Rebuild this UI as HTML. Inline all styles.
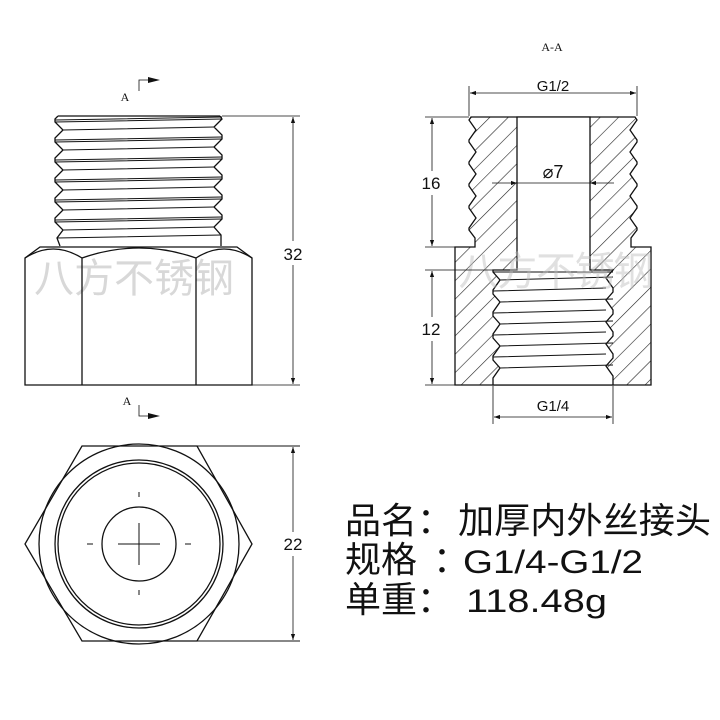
<!DOCTYPE html>
<html><head><meta charset="utf-8"><style>
html,body{margin:0;padding:0;background:#fff}
svg{display:block}
</style></head><body>
<svg width="720" height="720" viewBox="0 0 720 720" xmlns="http://www.w3.org/2000/svg">
<defs>
<pattern id="h" width="13" height="13" patternUnits="userSpaceOnUse" patternTransform="rotate(45)">
<line x1="0" y1="0" x2="0" y2="13" stroke="#222" stroke-width="1.2"/>
</pattern>
<marker id="ar" viewBox="0 0 10 10" refX="10" refY="5" markerWidth="10" markerHeight="6" orient="auto-start-reverse" markerUnits="userSpaceOnUse">
<path d="M0,1.5 L10,5 L0,8.5z" fill="#111"/>
</marker>
</defs>

<text x="34" y="292" font-family="Liberation Sans, Noto Sans CJK SC, sans-serif" font-size="40" fill="#d8d8d8" textLength="200">八方不锈钢</text>

<g fill="none" stroke="#111" stroke-width="1.3">
<path d="M58,116 L220,116 M58,116 L55,119 L55,122 L63,130 L55,138 L55,142 L63,150 L55,158 L55,162 L63,170 L55,178 L55,182 L63,190 L55,198 L55,202 L63,210 L55,218 L55,222 L63,230 L57,238 L60,246"/>
<path d="M220,116 L222,119 L214,127 L222,135 L222,139 L214,147 L222,155 L222,159 L214,167 L222,175 L222,179 L214,187 L222,195 L222,199 L214,207 L222,215 L222,219 L214,227 L221,235 L221,246"/>
<g stroke-width="1">
<path d="M55,120 L222,117 M63,130 L214,127 M55,140 L222,137 M63,150 L214,147 M55,160 L222,157 M63,170 L214,167 M55,180 L222,177 M63,190 L214,187 M55,200 L222,197 M63,210 L214,207 M55,220 L222,217 M63,230 L214,227 M57,238 L221,235"/>
<path d="M55,122 L222,119 M55,142 L222,139 M55,162 L222,159 M55,182 L222,179 M55,202 L222,199 M55,222 L222,219"/>
</g>
<path d="M25,258 L40,247 L237,247 L252,258 L252,385 L25,385 Z"/>
<path d="M25,258 Q53,240 82,258 M82,258 Q139,238 196,258 M196,258 Q224,240 252,258 M82,258 L82,385 M196,258 L196,385"/>
</g>
<g stroke="#111" stroke-width="0.8" fill="none">
<path d="M222,116 L300,116 M252,385 L300,385"/>
<line x1="293" y1="117" x2="293" y2="384" marker-start="url(#ar)" marker-end="url(#ar)"/>
<path d="M139,91 L139,80 L150,80 M139,405 L139,416 L150,416"/>
</g>
<path d="M148,77 L160,80 L148,83z M148,413 L160,416 L148,419z" fill="#111"/>
<rect x="281" y="241" width="24" height="24" fill="#fff"/>
<text x="293" y="260" font-family="Liberation Sans, sans-serif" font-size="17" text-anchor="middle" fill="#111">32</text>
<text x="125" y="101" font-family="Liberation Serif, serif" font-size="12" text-anchor="middle" fill="#111">A</text>
<text x="127" y="405" font-family="Liberation Serif, serif" font-size="12" text-anchor="middle" fill="#111">A</text>

<g fill="none" stroke="#111" stroke-width="1.3">
<polygon points="82,446 197,446 252,544 197,641 82,641 25,544"/>
<circle cx="139" cy="544" r="100"/>
<circle cx="139" cy="544" r="84"/>
<circle cx="139" cy="544" r="81"/>
<circle cx="139" cy="544" r="37"/>
</g>
<g stroke="#111" stroke-width="1">
<path d="M118,544 L160,544 M139,523 L139,565 M87,544 L93,544 M185,544 L191,544 M139,492 L139,497 M139,590 L139,595"/>
<path d="M197,446 L300,446 M197,641 L300,641"/>
<line x1="293" y1="447" x2="293" y2="640" marker-start="url(#ar)" marker-end="url(#ar)" stroke-width="0.8"/>
</g>
<rect x="281" y="532" width="24" height="24" fill="#fff"/>
<text x="293" y="550" font-family="Liberation Sans, sans-serif" font-size="17" text-anchor="middle" fill="#111">22</text>

<text x="552" y="51" font-family="Liberation Serif, serif" font-size="12" text-anchor="middle" fill="#111">A-A</text>
<path fill="url(#h)" stroke="#111" stroke-width="1.3" d="M471,117 L635,117 L637,120 L630,130 L637,140 L637,142 L630,152 L637,162 L637,164 L630,174 L637,184 L637,186 L630,196 L637,206 L637,208 L630,218 L637,228 L637,230 L631,238 L631,247 L651,247 L651,385 L455,385 L455,247 L475,247 L475,238 L469,230 L469,228 L476,218 L469,208 L469,206 L476,196 L469,186 L469,184 L476,174 L469,164 L469,162 L476,152 L469,142 L469,140 L476,130 L469,120 Z"/>
<path fill="#fff" stroke="#111" stroke-width="1.3" d="M517,117 L590,117 L590,270 L613,270 L606,278 L613,288 L613,292 L606,300 L613,310 L613,314 L606,322 L613,332 L613,336 L606,344 L613,354 L613,358 L606,366 L613,376 L613,385 L493,385 L493,378 L500,368 L493,360 L493,356 L500,346 L493,338 L493,334 L500,324 L493,316 L493,312 L500,302 L493,294 L493,290 L500,280 L493,272 L493,270 L517,270 Z"/>
<g stroke="#111" stroke-width="1" fill="none">
<path d="M500,280 L613,277 M493,291 L606,288 M500,302 L613,299 M493,313 L606,310 M500,324 L613,321 M493,335 L606,332 M500,346 L613,343 M493,357 L606,354 M500,368 L613,365"/>
<path d="M493,272 L613,272"/>
</g>
<text x="556" y="285" font-family="Liberation Sans, Noto Sans CJK SC, sans-serif" font-size="40" fill="#bbb" fill-opacity="0.45" text-anchor="middle" textLength="195">八方不锈钢</text>
<g stroke="#111" stroke-width="0.8" fill="none">
<path d="M469,86 L469,116 M637,86 L637,116 M425,117 L469,117 M425,247 L455,247 M425,270 L493,270 M425,385 L455,385 M493,386 L493,424 M613,386 L613,424"/>
<line x1="470" y1="93" x2="636" y2="93" marker-start="url(#ar)" marker-end="url(#ar)"/>
<line x1="432" y1="118" x2="432" y2="246" marker-start="url(#ar)" marker-end="url(#ar)"/>
<line x1="432" y1="271" x2="432" y2="384" marker-start="url(#ar)" marker-end="url(#ar)"/>
<line x1="494" y1="417" x2="612" y2="417" marker-start="url(#ar)" marker-end="url(#ar)"/>
<line x1="492" y1="183" x2="517" y2="183" marker-end="url(#ar)"/>
<line x1="614" y1="183" x2="590" y2="183" marker-end="url(#ar)"/>
<line x1="517" y1="183" x2="590" y2="183"/>
</g>
<rect x="533" y="78" width="40" height="10" fill="#fff"/>
<text x="553" y="91" font-family="Liberation Sans, sans-serif" font-size="15" text-anchor="middle" fill="#111">G1/2</text>
<text x="553" y="411" font-family="Liberation Sans, sans-serif" font-size="15" text-anchor="middle" fill="#111">G1/4</text>
<text x="553" y="178" font-family="Liberation Sans, sans-serif" font-size="18" text-anchor="middle" fill="#111">⌀7</text>
<rect x="417" y="171" width="30" height="24" fill="#fff"/>
<text x="431" y="189" font-family="Liberation Sans, sans-serif" font-size="17" text-anchor="middle" fill="#111">16</text>
<rect x="417" y="317" width="30" height="24" fill="#fff"/>
<text x="431" y="335" font-family="Liberation Sans, sans-serif" font-size="17" text-anchor="middle" fill="#111">12</text>

<g font-family="Liberation Sans, Noto Sans CJK SC, sans-serif" fill="#111">
<text x="345" y="533" font-size="36">品名：</text>
<text x="458" y="533" font-size="36" textLength="253" lengthAdjust="spacingAndGlyphs">加厚内外丝接头</text>
<text x="345" y="572" font-size="36">规格</text>
<text x="433" y="572" font-size="36">：</text>
<text x="463" y="573" font-size="32" textLength="180" lengthAdjust="spacingAndGlyphs">G1/4-G1/2</text>
<text x="345" y="612" font-size="36">单重：</text>
<text x="466" y="612" font-size="32" textLength="141" lengthAdjust="spacingAndGlyphs">118.48g</text>
</g>
</svg>
</body></html>
